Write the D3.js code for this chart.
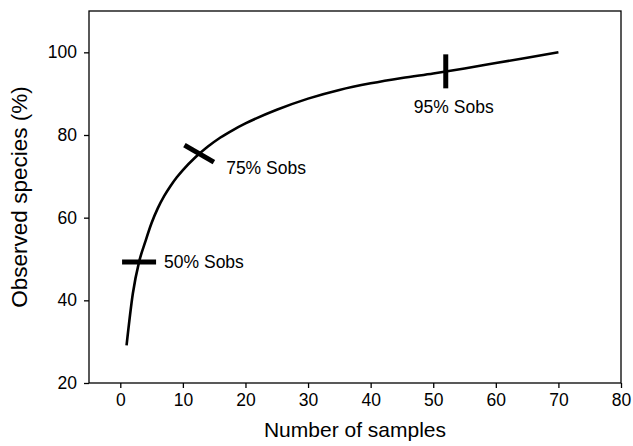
<!DOCTYPE html>
<style>
  body { margin: 0; background: #fff; }
  text { font-family: "Liberation Sans", Arial, sans-serif; fill: #000; }
  .axis .domain { display: none; }
  .axis line { stroke: #000; stroke-width: 1.3; }
  .axis text { font-size: 17.5px; }
</style>
<svg width="633" height="446"></svg>
<script src="https://d3js.org/d3.v7.min.js"></script>
<script>
  // rarefaction curve
  var samples = [1, 2, 3, 4, 5, 6, 7, 8, 9, 10, 12, 14, 16, 18, 20, 25, 30, 35, 40, 45, 50, 55, 60, 65, 70];
  var observed = [29.1, 41.6, 49.3, 54.2, 58.7, 62.3, 65.2, 67.6, 69.7, 71.5, 74.6, 77.2, 79.4, 81.2, 82.8,
    86.1, 88.8, 90.9, 92.5, 93.8, 94.9, 96.1, 97.4, 98.7, 100];

  // marked points on the curve
  var markLabels = ["50% Sobs", "75% Sobs", "95% Sobs"];
  var markX = [3, 12.6, 52];
  var markY = [49.3, 75.5, 95.4];

  var xTicks = [0, 10, 20, 30, 40, 50, 60, 70, 80];
  var yTicks = [20, 40, 60, 80, 100];

  var svg = d3.select("svg"),
    margin = { top: 11, right: 12, bottom: 63, left: 89 },
    width = +svg.attr("width") - margin.left - margin.right,
    height = +svg.attr("height") - margin.top - margin.bottom;

  var g = svg.append("g")
    .attr("transform", "translate(" + margin.left + "," + margin.top + ")");

  var x = d3.scaleLinear().domain([-5, 80]).range([0, width]);
  var y = d3.scaleLinear().domain([20, 110]).range([height, 0]);

  // axes (ticks point outward)
  g.append("g")
    .attr("class", "axis")
    .attr("transform", "translate(0," + height + ")")
    .call(d3.axisBottom(x).tickValues(xTicks).tickSize(5).tickPadding(6).tickSizeOuter(0));

  g.append("g")
    .attr("class", "axis")
    .call(d3.axisLeft(y).tickValues(yTicks).tickSize(5).tickPadding(7).tickSizeOuter(0));

  // frame
  g.append("rect")
    .attr("width", width)
    .attr("height", height)
    .attr("fill", "none")
    .attr("stroke", "#000")
    .attr("stroke-width", 1.3);

  // curve
  var line = d3.line()
    .x(function(d, i) { return x(samples[i]); })
    .y(function(d) { return y(d); })
    .curve(d3.curveMonotoneX);

  g.append("path")
    .datum(observed)
    .attr("fill", "none")
    .attr("stroke", "#000")
    .attr("stroke-width", 2.6)
    .attr("d", line);

  // marker bars and their labels
  var markAngle = [0, 30, 90];
  var labelOffset = [[25, 0, "start"], [27, 14, "start"], [8, 36, "middle"]];

  var marks = g.selectAll(".mark")
    .data(markLabels)
    .enter()
    .append("g")
    .attr("class", "mark")
    .attr("transform", function(d, i) {
      return "translate(" + x(markX[i]) + "," + y(markY[i]) + ")";
    });

  marks.append("line")
    .attr("x1", -17)
    .attr("x2", 17)
    .attr("stroke", "#000")
    .attr("stroke-width", 5)
    .attr("transform", function(d, i) { return "rotate(" + markAngle[i] + ")"; });

  marks.append("text")
    .attr("x", function(d, i) { return labelOffset[i][0]; })
    .attr("y", function(d, i) { return labelOffset[i][1]; })
    .attr("dy", "0.35em")
    .attr("text-anchor", function(d, i) { return labelOffset[i][2]; })
    .attr("font-size", 17.5)
    .text(function(d) { return d; });

  // axis titles
  svg.append("text")
    .attr("x", margin.left + width / 2)
    .attr("y", 437)
    .attr("text-anchor", "middle")
    .attr("font-size", 21)
    .text("Number of samples");

  svg.append("text")
    .attr("transform", "translate(27," + (margin.top + height / 2) + ") rotate(-90)")
    .attr("text-anchor", "middle")
    .attr("font-size", 22.5)
    .text("Observed species (%)");
</script>
